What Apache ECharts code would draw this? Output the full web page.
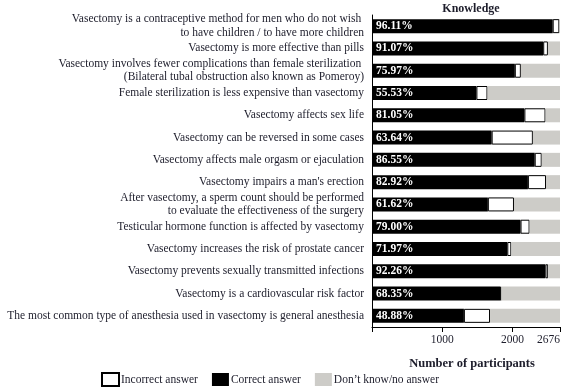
<!DOCTYPE html>
<html><head><meta charset="utf-8">
<script src="https://cdn.jsdelivr.net/npm/echarts@6/dist/echarts.min.js"></script>
<style>html,body{margin:0;padding:0;background:#fff}#c{width:580px;height:392px}</style>
</head><body><div id="c"></div>
<script>
const categories = [
  "Vasectomy is a contraceptive method for men who do not wish \nto have children / to have more children",
  "Vasectomy is more effective than pills",
  "Vasectomy involves fewer complications than female sterilization \n(Bilateral tubal obstruction also known as Pomeroy)",
  "Female sterilization is less expensive than vasectomy",
  "Vasectomy affects sex life",
  "Vasectomy can be reversed in some cases",
  "Vasectomy affects male orgasm or ejaculation",
  "Vasectomy impairs a man's erection",
  "After vasectomy, a sperm count should be performed\nto evaluate the effectiveness of the surgery",
  "Testicular hormone function is affected by vasectomy",
  "Vasectomy increases the risk of prostate cancer",
  "Vasectomy prevents sexually transmitted infections",
  "Vasectomy is a cardiovascular risk factor",
  "The most common type of anesthesia used in vasectomy is general anesthesia"
];
const correct   = [2572, 2437, 2033, 1486, 2169, 1703, 2316, 2219, 1649, 2114, 1926, 2469, 1829, 1308];
const incorrect = [95, 67, 86, 158, 301, 587, 100, 258, 372, 129, 57, 39, 10, 372];
const dontKnow  = [9, 172, 557, 1032, 206, 386, 260, 199, 655, 433, 693, 168, 837, 996];
const pctLabels = ["96.11%","91.07%","75.97%","55.53%","81.05%","63.64%","86.55%","82.92%","61.62%","79.00%","71.97%","92.26%","68.35%","48.88%"];
const xTicks = [1000, 2000, 2676];
const total = 2676;

const font = "Liberation Serif";
const txt = "#1d1d2b";
const chart = echarts.init(document.getElementById('c'), null, {renderer:'canvas'});
chart.setOption({
  animation: false,
  textStyle: {fontFamily: font},
  title: {text: "Knowledge", left: 466, top: -2, textAlign: 'center',
    textStyle: {fontFamily: font, fontSize: 12, fontWeight: 'bold', color: txt}},
  legend: {
    data: ["Incorrect answer", "Correct answer", "Don\u2019t know/no answer"],
    left: 96, top: 367, itemWidth: 17, itemHeight: 13, itemGap: 14, icon: 'rect',
    textStyle: {fontFamily: font, fontSize: 11.5, color: txt, padding: [0,0,0,-3]},
    selectedMode: false
  },
  grid: {left: 372, right: 20, top: 15, bottom: 65, containLabel: false},
  xAxis: {
    type: 'value', min: 0, max: total,
    name: "Number of participants", nameLocation: 'middle', nameGap: 30,
    nameTextStyle: {fontFamily: font, fontSize: 12.5, fontWeight: 'bold', color: txt, padding: [0,0,0,12]},
    axisLine: {show: true, lineStyle: {color: '#000', width: 1}},
    axisTick: {show: true, length: 5, lineStyle: {color: '#000'}, customValues: [0].concat(xTicks)},
    axisLabel: {customValues: xTicks, fontFamily: font, fontSize: 11.5, color: txt, margin: 7,
      alignMaxLabel: 'right', formatter: v => String(v)},
    splitLine: {show: false}
  },
  yAxis: {
    type: 'category', data: categories, inverse: true,
    axisLine: {show: true, lineStyle: {color: '#000', width: 1}},
    axisTick: {show: false},
    axisLabel: {fontFamily: font, fontSize: 11.5, color: txt, margin: 8, lineHeight: 13.5, align: 'right'}
  },
  series: [
    {name: "Correct answer", type: 'bar', stack: 'k', data: correct, barWidth: 14,
      itemStyle: {color: '#000'},
      label: {show: true, position: 'insideLeft', distance: 4, color: '#fff', fontFamily: font,
        fontSize: 11.5, fontWeight: 'bold', formatter: p => pctLabels[p.dataIndex]}},
    {name: "Incorrect answer", type: 'bar', stack: 'k', data: incorrect, barWidth: 14,
      itemStyle: {color: '#fff', borderColor: '#000', borderWidth: 1}},
    {name: "Don\u2019t know/no answer", type: 'bar', stack: 'k', data: dontKnow, barWidth: 14,
      itemStyle: {color: '#cdccc8'}}
  ]
});
</script></body></html>
